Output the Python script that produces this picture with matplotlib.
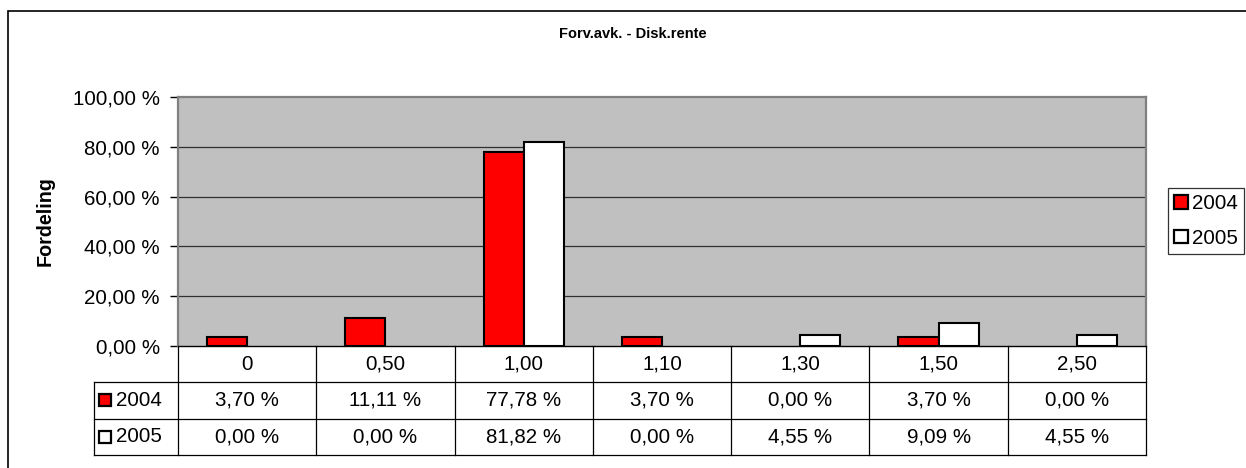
import matplotlib
matplotlib.use("Agg")
import matplotlib.pyplot as plt
from matplotlib.patches import Rectangle, Patch
from matplotlib.transforms import blended_transform_factory
import numpy as np

plt.rcParams['font.family'] = ['Liberation Sans', 'DejaVu Sans']

title = "Forv.avk. - Disk.rente"
ylabel = "Fordeling"
categories = ["0", "0,50", "1,00", "1,10", "1,30", "1,50", "2,50"]
series_names = ["2004", "2005"]
values_2004 = [3.70, 11.11, 77.78, 3.70, 0.00, 3.70, 0.00]
values_2005 = [0.00, 0.00, 81.82, 0.00, 4.55, 9.09, 4.55]
yticks = [0, 20, 40, 60, 80, 100]
colors = ["#FF0000", "#FFFFFF"]

W, H = 1246, 468
fig = plt.figure(figsize=(W / 100, H / 100), dpi=100)

# plot area in pixels
px_l, px_r, px_t, px_b = 178, 1146, 97, 346
ax = fig.add_axes([px_l / W, 1 - px_b / H, (px_r - px_l) / W, (px_b - px_t) / H])
ax.set_facecolor("#C0C0C0")

n = len(categories)
x = np.arange(n)
bw = 0.29
fs = 14.8

for i, (vals, col) in enumerate(zip([values_2004, values_2005], colors)):
    lw = [1.5 if v > 0 else 0 for v in vals]
    ax.bar(x - bw / 2 + i * bw, vals, width=bw, color=col, edgecolor="black",
           linewidth=lw, zorder=3)

ax.set_xlim(-0.5, n - 0.5)
ax.set_ylim(0, 100)
ax.set_yticks(yticks)
ax.set_yticklabels([f"{t:.2f}".replace(".", ",") + " %" for t in yticks], fontsize=fs)
ax.tick_params(axis="y", length=6, width=1, color="black", direction="out", pad=7)
ax.set_xticks([])
for t in yticks[1:-1]:
    ax.axhline(t, color="#303030", linewidth=0.9, zorder=1)
for s in ["left", "top", "right"]:
    ax.spines[s].set_color("#808080")
    ax.spines[s].set_linewidth(1.6)
ax.spines["bottom"].set_color("black")
ax.spines["bottom"].set_linewidth(1.0)

# title and y-axis label
fig.text(633 / W, 1 - 34 / H, title, ha="center", va="center", fontsize=10.5,
         fontweight="bold")
fig.text(45 / W, 1 - (px_t + px_b) / 2 / H, ylabel, ha="center", va="center",
         rotation=90, fontsize=14.2, fontweight="bold")

# data table beneath the axis
plot_h = px_b - px_t
cat_w = (px_r - px_l) / n
row_h = 36.3 / plot_h
label_left = -0.5 - (px_l - 94) / cat_w
tr = blended_transform_factory(ax.transData, ax.transAxes)
line_kw = dict(color="black", linewidth=0.9, transform=tr, clip_on=False)

# horizontal rules
for k in (1, 2, 3):
    ax.plot([label_left, n - 0.5], [-k * row_h, -k * row_h], **line_kw)
# vertical rules
for b in np.arange(n + 1) - 0.5:
    ax.plot([b, b], [0, -3 * row_h], **line_kw)
ax.plot([label_left, label_left], [-row_h, -3 * row_h], **line_kw)

for j, c in enumerate(categories):
    ax.text(j, -0.5 * row_h, c, transform=tr, ha="center", va="center", fontsize=fs)

for r, (name, vals, col) in enumerate(zip(series_names, [values_2004, values_2005], colors)):
    yc = -(r + 1.5) * row_h
    ax.plot([label_left + 11 / cat_w], [yc], marker="s", markersize=9,
            markerfacecolor=col, markeredgecolor="black", markeredgewidth=1.6,
            transform=tr, clip_on=False, linestyle="none")
    ax.text(label_left + 22 / cat_w, yc, name, transform=tr, ha="left",
            va="center", fontsize=fs)
    for j, v in enumerate(vals):
        ax.text(j, yc, f"{v:.2f}".replace(".", ",") + " %", transform=tr,
                ha="center", va="center", fontsize=fs)

# legend
handles = [Patch(facecolor=c, edgecolor="black", linewidth=1.6) for c in colors]
leg = fig.legend(handles, series_names, loc="upper left",
                 bbox_to_anchor=(1168 / W, 1 - 188 / H), fontsize=fs,
                 frameon=True, fancybox=False, edgecolor="black",
                 handlelength=0.65, handleheight=0.65, handletextpad=0.22,
                 borderpad=0.3, labelspacing=0.75, borderaxespad=0)
leg.get_frame().set_linewidth(0.9)

# outer chart frame
fig.patches.append(Rectangle((8 / W, -0.2), 1.2, 1.2 - 11 / H, transform=fig.transFigure,
                             fill=False, edgecolor="black", linewidth=1.2))

fig.savefig("out.png", dpi=100)
